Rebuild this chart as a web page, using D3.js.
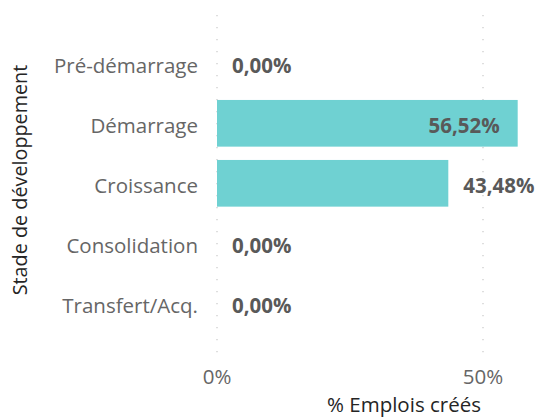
<!DOCTYPE html>
<html><head><meta charset="utf-8">
<script src="https://cdn.jsdelivr.net/npm/d3@7"></script>
<style>body{margin:0;background:#fff}svg{display:block}</style>
</head><body>
<svg id="c" width="538" height="418"></svg>
<script>
const categories = ["Pré-démarrage","Démarrage","Croissance","Consolidation","Transfert/Acq."];
const values = [0, 56.52, 43.48, 0, 0];
const xTicks = [0, 50];
const xTitle = "% Emplois créés";
const yTitle = "Stade de développement";

const svg = d3.select("#c");
const font = "'Open Sans', sans-serif";
const x = d3.scaleLinear().domain([0, 50]).range([217, 483]);
const y = d3.scaleBand().domain(categories).range([33.3, 333.3]).paddingInner(0.222).paddingOuter(0.111);

svg.selectAll("line.grid").data(xTicks).join("line")
  .attr("x1", d => x(d)).attr("x2", d => x(d)).attr("y1", 15).attr("y2", 354)
  .attr("stroke", "#c8c8c8").attr("stroke-width", 1.2).attr("stroke-dasharray", "1.2,10.8");

svg.selectAll("rect.bar").data(values).join("rect")
  .attr("x", x(0)).attr("y", (d, i) => y(categories[i]))
  .attr("width", d => x(d) - x(0)).attr("height", y.bandwidth())
  .attr("fill", "#6FD1D2");

const fmt = v => v.toFixed(2).replace(".", ",") + "%";
svg.selectAll("text.val").data(values).join("text")
  .attr("x", d => d > 50 ? x(d) - 18 : x(d) + 15)
  .attr("y", (d, i) => y(categories[i]) + y.bandwidth() / 2 + 2)
  .attr("dy", "0.36em")
  .attr("text-anchor", d => d > 50 ? "end" : "start")
  .attr("font-family", font).attr("font-weight", "bold").attr("font-size", 20.5)
  .attr("fill", "#595959")
  .text(d => fmt(d));

svg.selectAll("text.cat").data(categories).join("text")
  .attr("x", 198).attr("y", d => y(d) + y.bandwidth() / 2 + 2)
  .attr("dy", "0.36em").attr("text-anchor", "end")
  .attr("font-family", font).attr("font-size", 20.5).attr("fill", "#666")
  .text(d => d);

svg.selectAll("text.tick").data(xTicks).join("text")
  .attr("x", d => x(d)).attr("y", 377).attr("dy", "0.36em").attr("text-anchor", "middle")
  .attr("font-family", font).attr("font-size", 20.5).attr("fill", "#666")
  .text(d => d + "%");

svg.append("text").attr("x", 404).attr("y", 411.5).attr("text-anchor", "middle")
  .attr("font-family", font).attr("font-size", 20.5).attr("fill", "#252525").text(xTitle);

svg.append("text").attr("transform", "translate(20,180) rotate(-90)").attr("dy", "0.36em")
  .attr("text-anchor", "middle").attr("font-family", font).attr("font-size", 19.8).attr("font-weight", 500).attr("fill", "#252525")
  .text(yTitle);
</script>
</body></html>
